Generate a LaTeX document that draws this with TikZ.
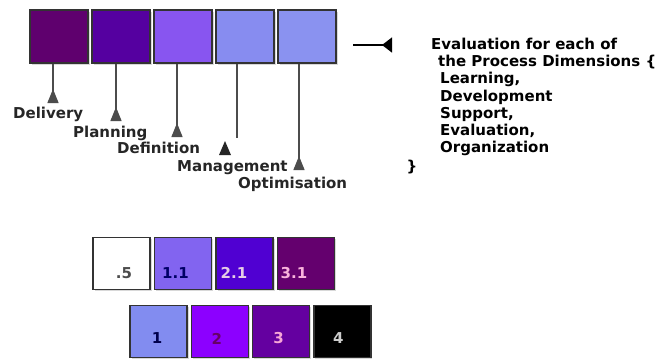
\documentclass[tikz,border=0pt]{standalone}
\usepackage{fontspec}
\setmainfont{DejaVu Sans}
\usetikzlibrary{positioning,arrows.meta,shadows}

\definecolor{cDel}{HTML}{5F006E}
\definecolor{cPlan}{HTML}{5500A0}
\definecolor{cDef}{HTML}{8855F0}
\definecolor{cMan}{HTML}{878CF0}
\definecolor{cOpt}{HTML}{8A92F0}
\definecolor{cOneOne}{HTML}{8264F0}
\definecolor{cTwoOne}{HTML}{5000D2}
\definecolor{cThreeOne}{HTML}{64006E}
\definecolor{cOne}{HTML}{828CF0}
\definecolor{cTwo}{HTML}{8C00FF}
\definecolor{cThree}{HTML}{6400A0}

\begin{document}
\begin{tikzpicture}[x=1pt,y=-1pt,
    box/.style={rectangle,draw=black!80,line width=1.4pt,minimum width=58pt,minimum height=53pt,
      drop shadow={shadow xshift=1.5pt,shadow yshift=-1.5pt,opacity=0.3}},
    smallbox/.style={box,minimum width=57pt,minimum height=52pt},
    lbl/.style={font=\fontsize{15}{17}\selectfont\bfseries,inner sep=0pt,anchor=base west,text=black!85},
    num/.style={font=\fontsize{15}{17}\selectfont\bfseries,inner sep=0pt},
    stem/.style={draw=black!70,line width=1.3pt},
    pointer/.style={stem,-{Triangle[reversed,length=14pt,width=11pt]}}]
  \fill[white] (0,0) rectangle (662,360);
  \useasboundingbox (0,0) rectangle (662,360);

  % process dimensions
  \node[box,fill=cDel] (bDel) at (59,36.5) {};
  \node[box,fill=cPlan,right of=bDel,node distance=62pt] (bPlan) {};
  \node[box,fill=cDef,right of=bPlan,node distance=62pt] (bDef) {};
  \node[box,fill=cMan,right of=bDef,node distance=62pt] (bMan) {};
  \node[box,fill=cOpt,right of=bMan,node distance=62pt] (bOpt) {};

  \node[lbl] (lDel) at (13,118) {Delivery};
  \node[lbl] (lPlan) at (73,137) {Planning};
  \node[lbl] (lDef) at (117,153) {Definition};
  \node[lbl] (lMan) at (177,171) {Management};
  \node[lbl] (lOpt) at (238,188) {Optimisation};

  \coordinate (eDel) at (53,103);
  \coordinate (ePlan) at (116,121);
  \coordinate (eDef) at (177,137);
  \coordinate (eMan) at (237,138);
  \coordinate (eOpt) at (299,170);
  \draw[pointer] (eDel |- bDel.south) -- (eDel);
  \draw[pointer] (ePlan |- bPlan.south) -- (ePlan);
  \draw[pointer] (eDef |- bDef.south) -- (eDef);
  \draw[stem] (eMan |- bMan.south) -- (eMan);
  \fill[black!85] (219,155) -- (231,155) -- (225,141) -- cycle;
  \draw[pointer] (eOpt |- bOpt.south) -- (eOpt);

  % evaluation
  \coordinate (aIn) at (353,45);
  \coordinate (aOut) at (392,45);
  \draw[stem,draw=black,-{Triangle[reversed,length=10pt,width=15pt]}] (aIn) -- (aOut);
  \node[font=\fontsize{15}{17.3}\selectfont\bfseries,inner sep=0pt,anchor=north west,align=left] (eval) at (431,37.5)
    {Evaluation for each of\\
     \hspace*{7pt}the Process Dimensions \{\\
     \hspace*{9pt}Learning,\\
     \hspace*{9pt}Development\\
     \hspace*{9pt}Support,\\
     \hspace*{9pt}Evaluation,\\
     \hspace*{9pt}Organization};
  \node[font=\fontsize{15}{17}\selectfont\bfseries,inner sep=0pt] (brace) at (412,167) {\}};

  % levels
  \node[smallbox,fill=white] (b05) at (121.5,263.5) {};
  \node[smallbox,fill=cOneOne,right of=b05,node distance=61.5pt] (b11) {};
  \node[smallbox,fill=cTwoOne,right of=b11,node distance=61.5pt] (b21) {};
  \node[smallbox,fill=cThreeOne,right of=b21,node distance=61.5pt] (b31) {};
  \node[smallbox,fill=cOne] (b1) at (158.5,331.5) {};
  \node[smallbox,fill=cTwo,right of=b1,node distance=61.3pt] (b2) {};
  \node[smallbox,fill=cThree,right of=b2,node distance=61.3pt] (b3) {};
  \node[smallbox,fill=black,right of=b3,node distance=61.3pt] (b4) {};

  \node[num,text=black!70] (n05) at ([shift={(2.5,9.5)}]b05.center) {.5};
  \node[num,text=blue!40!black] (n11) at ([shift={(-7.5,9.5)}]b11.center) {1.1};
  \node[num,text=violet!20!white] (n21) at ([shift={(-10.5,9.5)}]b21.center) {2.1};
  \node[num,text=magenta!30!white] (n31) at ([shift={(-12,9.5)}]b31.center) {3.1};
  \node[num,text=blue!30!black] (n1) at ([shift={(-1.5,7)}]b1.center) {1};
  \node[num,text=violet!80!black] (n2) at ([shift={(-3,7)}]b2.center) {2};
  \node[num,text=magenta!35!white] (n3) at ([shift={(-2.5,7)}]b3.center) {3};
  \node[num,text=black!20] (n4) at ([shift={(-4,7)}]b4.center) {4};
\end{tikzpicture}
\end{document}
